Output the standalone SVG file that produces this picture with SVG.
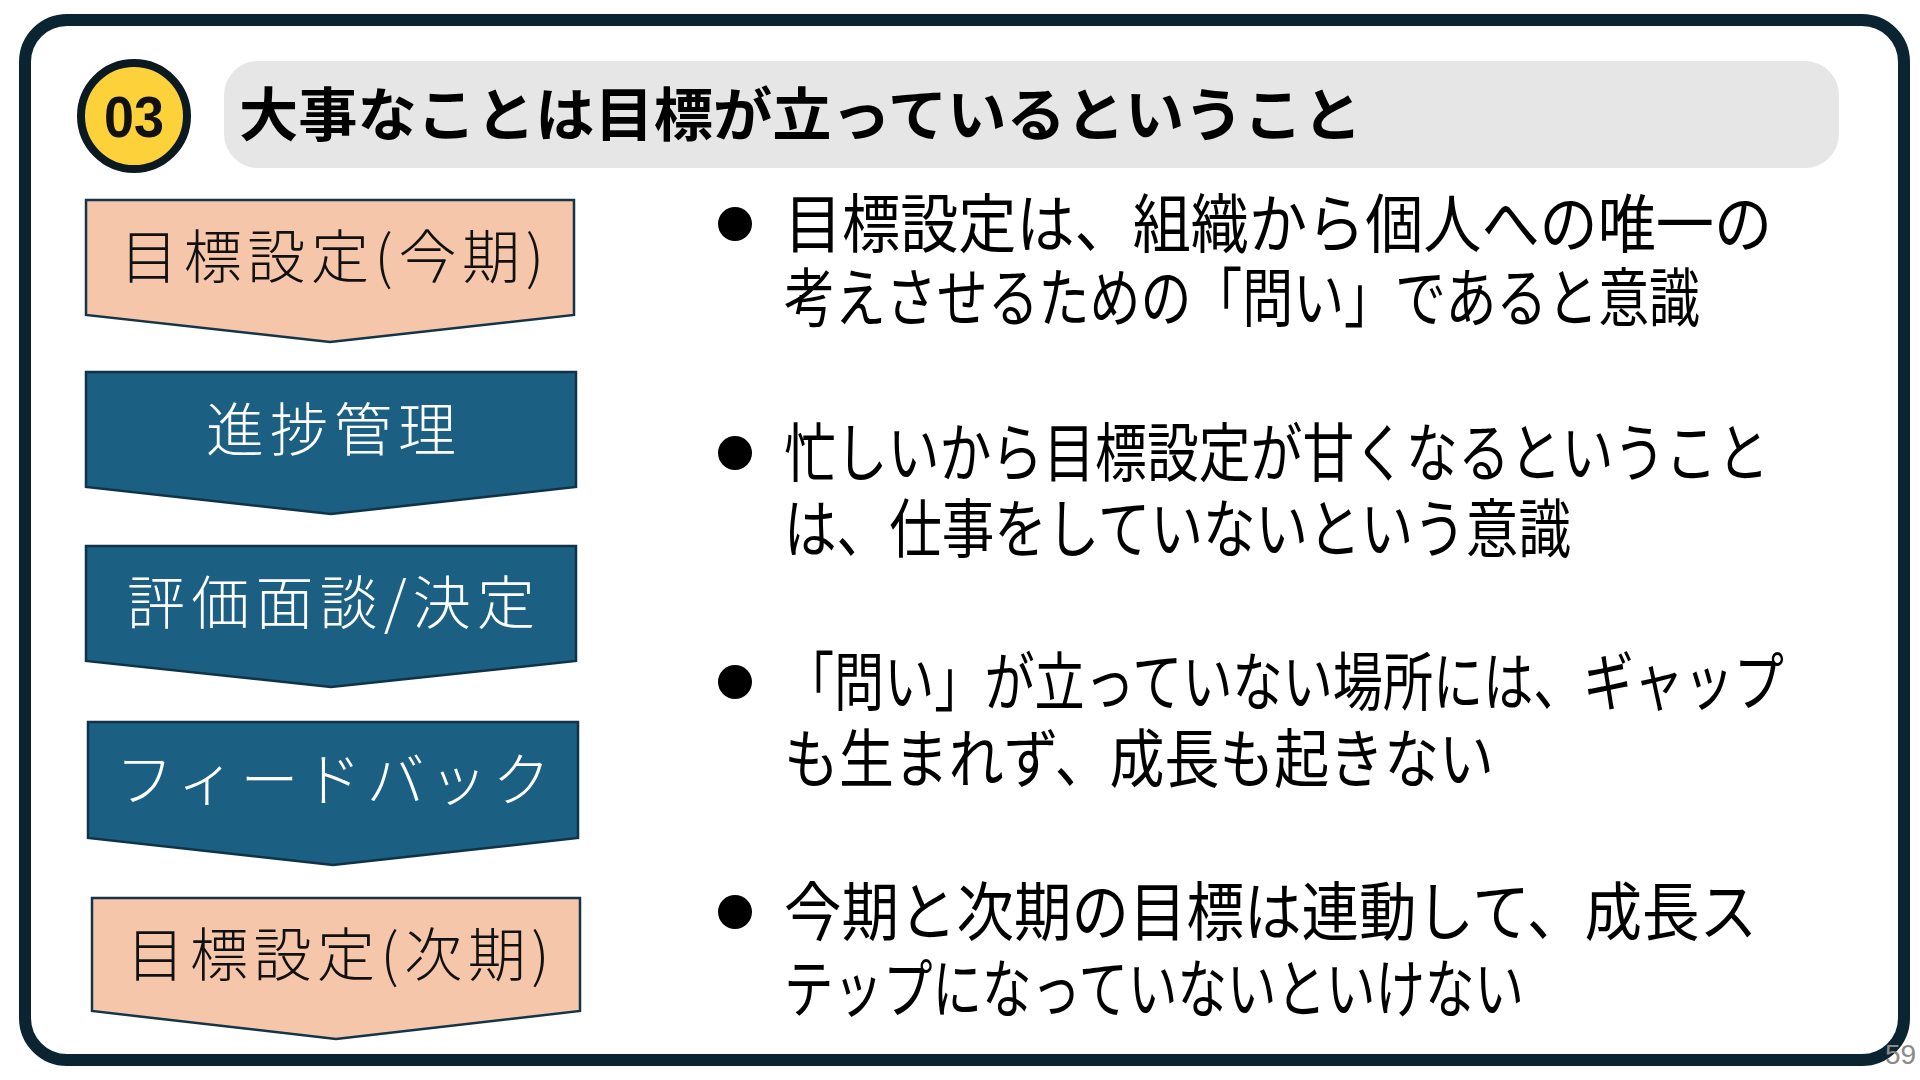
<svg xmlns="http://www.w3.org/2000/svg" width="1920" height="1080" viewBox="0 0 1920 1080">
<style>
.frame{fill:#ffffff;stroke:#0b2432;stroke-width:12}
.peach{fill:#f5c6aa;stroke:#143447;stroke-width:2.5}
.blue{fill:#1b5f82;stroke:#0f3347;stroke-width:2.5}
.step{font-family:"Noto Sans CJK JP","Noto Sans",sans-serif;font-size:58px;font-weight:300;text-anchor:middle}
.dark{fill:#111111}
.light{fill:#ffffff}
.body{font-family:"Noto Sans CJK JP","Noto Sans",sans-serif;font-size:64px;font-weight:400;fill:#000000}
.title{font-family:"Noto Sans CJK JP","Noto Sans",sans-serif;font-size:58px;font-weight:700;fill:#000000}
</style>
<rect width="1920" height="1080" fill="#ffffff"/>
<rect class="frame" x="25" y="20" width="1879" height="1040" rx="42"/>

<g id="badge">
<circle cx="134" cy="116" r="53" fill="#fdd13a" stroke="#0b1a20" stroke-width="8"/>
<text x="134" y="137" font-family="Liberation Sans, Arial, sans-serif" font-size="58" font-weight="700" text-anchor="middle" textLength="60" lengthAdjust="spacingAndGlyphs" fill="#111111">03</text>
</g>

<g id="title">
<rect x="224" y="61" width="1615" height="107" rx="34" fill="#e6e6e6"/>
<text class="title" x="239" y="136" textLength="1123" lengthAdjust="spacingAndGlyphs">大事なことは目標が立っているということ</text>
</g>

<g id="step1">
<path class="peach" d="M86,200 H574 V315 L330,342 L86,315 Z"/>
<text class="step dark" x="332" y="278" textLength="424">目標設定(今期)</text>
</g>
<g id="step2">
<path class="blue" d="M86,372 H576 V487 L331,514 L86,487 Z"/>
<text class="step light" x="331" y="451" textLength="250">進捗管理</text>
</g>
<g id="step3">
<path class="blue" d="M86,546 H576 V661 L331,687 L86,661 Z"/>
<text class="step light" x="331" y="624" textLength="408">評価面談/決定</text>
</g>
<g id="step4">
<path class="blue" d="M88,722 H578 V838 L333,865 L88,838 Z"/>
<text class="step light" x="333" y="801" textLength="435">フィードバック</text>
</g>
<g id="step5">
<path class="peach" d="M92,898 H580 V1011 L336,1039 L92,1011 Z"/>
<text class="step dark" x="338" y="976" textLength="423">目標設定(次期)</text>
</g>

<g id="connectors"></g>

<g id="point1">
<circle cx="735" cy="224" r="17" fill="#000000"/>
<text class="body" x="784" y="247" textLength="988" lengthAdjust="spacingAndGlyphs">目標設定は、組織から個人への唯一の</text>
<text class="body" x="784" y="321" textLength="916" lengthAdjust="spacingAndGlyphs">考えさせるための「問い」であると意識</text>
</g>
<g id="point2">
<circle cx="735" cy="453" r="17" fill="#000000"/>
<text class="body" x="784" y="476" textLength="985" lengthAdjust="spacingAndGlyphs">忙しいから目標設定が甘くなるということ</text>
<text class="body" x="784" y="552" textLength="787" lengthAdjust="spacingAndGlyphs">は、仕事をしていないという意識</text>
</g>
<g id="point3">
<circle cx="735" cy="682" r="17" fill="#000000"/>
<text class="body" x="784" y="705" textLength="1000" lengthAdjust="spacingAndGlyphs">「問い」が立っていない場所には、ギャップ</text>
<text class="body" x="784" y="782" textLength="710" lengthAdjust="spacingAndGlyphs">も生まれず、成長も起きない</text>
</g>
<g id="point4">
<circle cx="735" cy="912" r="17" fill="#000000"/>
<text class="body" x="784" y="935" textLength="973" lengthAdjust="spacingAndGlyphs">今期と次期の目標は連動して、成長ス</text>
<text class="body" x="784" y="1012" textLength="740" lengthAdjust="spacingAndGlyphs">テップになっていないといけない</text>
</g>

<text x="1885" y="1064" font-family="Liberation Sans, Arial, sans-serif" font-size="28" fill="#8a8a8a">59</text>
</svg>
